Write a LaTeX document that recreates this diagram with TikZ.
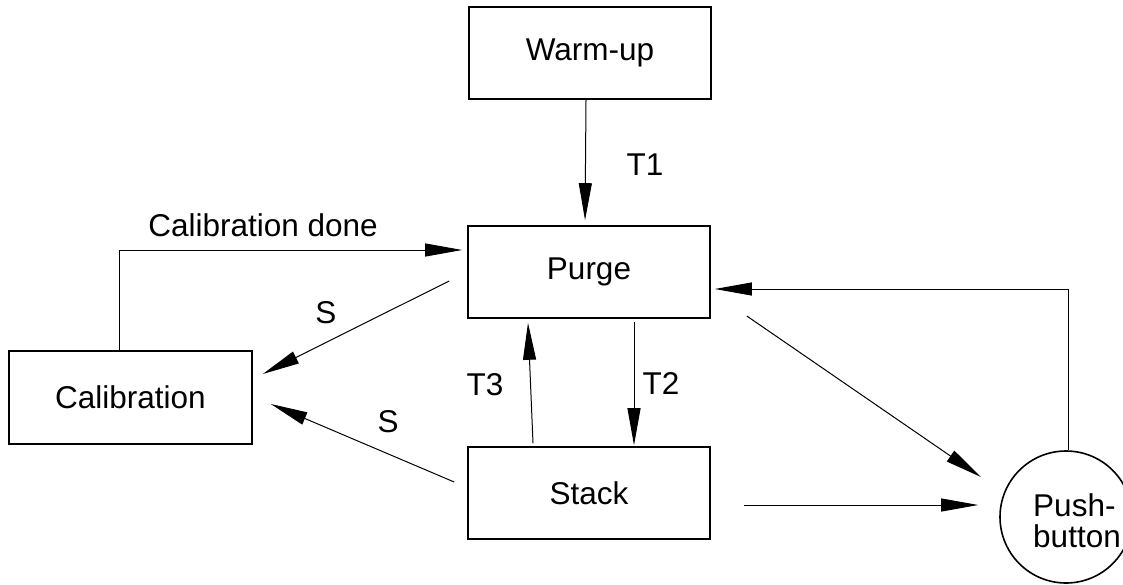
\documentclass[tikz,border=0pt]{standalone}
\usepackage{fontspec}
\setmainfont{Liberation Sans}
\usetikzlibrary{arrows.meta,calc}
\tikzset{
  statebox/.style={draw, line width=1.6pt, rectangle, inner sep=0pt,
    minimum width=242pt, minimum height=92pt},
  statecircle/.style={draw, line width=1.6pt, circle, inner sep=0pt,
    minimum size=132pt},
  conn/.style={line width=1pt, -{Triangle[length=37pt,width=13pt]}},
  lbl/.style={inner sep=0pt}
}
\begin{document}
\begin{tikzpicture}[x=1pt, y=-1pt, font=\fontsize{31.5}{31}\selectfont]
\useasboundingbox (0,0) rectangle (1123,584);

% states
\node[statebox] (warm) at (590,53) {Warm-up};
\node[statebox] (purge) at (589,272) {Purge};
\node[statebox] (stack) at (589,493) {Stack};
\node[statebox, minimum width=243pt, minimum height=93pt] (calib) at (130.5,397.5) {Calibration};
\node[statecircle] (push) at (1066,517) {};
\node[lbl, align=left] (pushtext) at (1077,521) {Push-\\button};

% transitions
\draw[conn, shorten >=5pt] ([xshift=-4pt]warm.south) -- ([xshift=-4pt]purge.north);
\draw[conn, shorten >=5pt] ([xshift=-11.5pt]calib.north) |- ([yshift=22pt]purge.west);
\draw[conn] ($(purge.west)+(-18,9)$) -- ($(calib.east)+(10,-23.5)$);
\draw[conn] ($(stack.west)+(-13,-11)$) -- ($(calib.east)+(18,6.5)$);
\draw[conn] ($(stack.north)+(-56,-3)$) -- ($(purge.south)+(-61,4)$);
\draw[conn] ($(purge.south)+(45,3)$) -- ($(stack.north)+(45,-1)$);
\draw[conn] ($(purge.east)+(36,44)$) -- ($(push.center)+(-85,-40)$);
\draw[conn] ($(stack.east)+(33,12)$) -- ($(push.west)+(-21,-12)$);
\draw[conn] ([xshift=2pt]push.north) |- ($(purge.east)+(4,17)$);

% transition labels
\node[lbl] (t1) at (645,165) {T1};
\node[lbl] (cdone) at (263,225) {Calibration done};
\node[lbl] (s1) at (326,313) {S};
\node[lbl] (s2) at (388,422) {S};
\node[lbl] (t3) at (485,385) {T3};
\node[lbl] (t2) at (661,383) {T2};
\end{tikzpicture}
\end{document}
